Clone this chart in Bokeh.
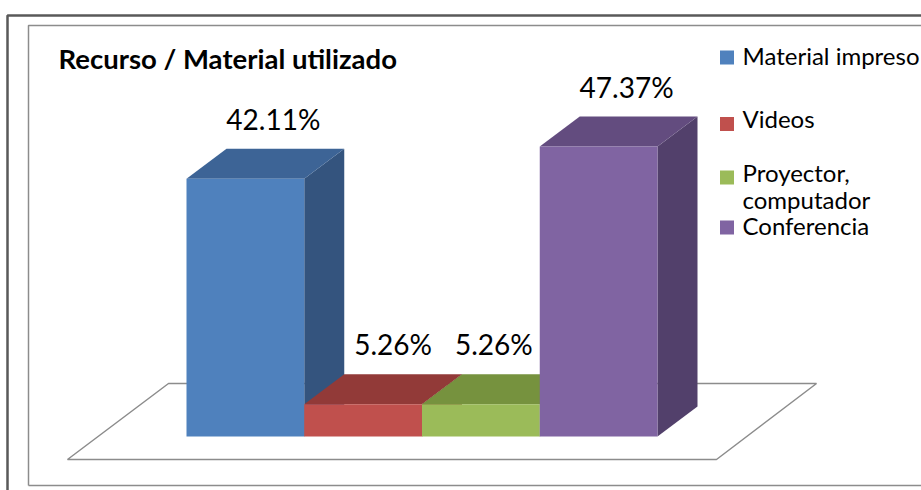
from bokeh.plotting import figure
from bokeh.models import Range1d
from bokeh.core.properties import value
from bokeh.embed import file_html
from bokeh.resources import INLINE

# ---- data ----
title_text = "Recurso / Material utilizado"
categories = ["Material impreso", "Videos", "Proyector, computador", "Conferencia"]
values = [42.11, 5.26, 5.26, 47.37]
front_colors = ["#4F81BD", "#C0504D", "#9BBB59", "#8064A2"]
top_colors = ["#3D6496", "#923A38", "#76923E", "#634C7F"]
side_colors = ["#34547E", "#7A302F", "#627A33", "#52406B"]

# ---- layout (pixel helpers) ----
W, H = 921, 490
PX = 6.12          # pixels per percent
ZERO = 436         # pixel row of value 0
def Y(py):
    return (ZERO - py) / PX
def X(px):
    return px

p = figure(width=W, height=H, output_backend="svg", toolbar_location=None,
           x_range=Range1d(0, W), y_range=Range1d(Y(H), Y(0)),
           min_border=0)
p.axis.visible = False
p.grid.visible = False
p.outline_line_color = None
p.background_fill_color = "white"
p.border_fill_color = "white"

FONT = "Lato"

# borders
p.line([X(7), X(7), X(960)], [Y(520), Y(15), Y(15)], line_color="#595959", line_width=2.5)
p.line([X(28), X(28), X(960)], [Y(485), Y(25), Y(25)], line_color="#8C8C8C", line_width=1.5)
p.line([X(28), X(960)], [Y(485), Y(485)], line_color="#8C8C8C", line_width=1.5)

# floor
p.patch([X(67), X(168), X(816), X(716)], [Y(459), Y(383), Y(383), Y(459)],
        fill_color="white", line_color="#8C8C8C", line_width=1.5)

# bars
BAR_X0 = X(186)
BAR_W = 117.75
DX = 40
DY = 30 / PX
xs_side, ys_side, xs_top, ys_top = [], [], [], []
lefts, rights = [], []
for i, v in enumerate(values):
    x0 = BAR_X0 + i * BAR_W
    x1 = x0 + BAR_W
    lefts.append(x0)
    rights.append(x1)
    xs_side.append([x1, x1, x1 + DX, x1 + DX])
    ys_side.append([0, v, v + DY, DY])
    xs_top.append([x0, x0 + DX, x1 + DX, x1])
    ys_top.append([v, v + DY, v + DY, v])

p.patches(xs_side, ys_side, fill_color=side_colors, line_color=None)
p.patches(xs_top, ys_top, fill_color=top_colors, line_color=None)
p.quad(left=lefts, right=rights, bottom=[0] * len(values), top=values,
       fill_color=front_colors, line_color=None)

# data labels
label_dx = [28, 30, 13, 28]
lab_x = [(l + r) / 2 + d for l, r, d in zip(lefts, rights, label_dx)]
lab_y = [v + 60 / PX for v in values]
p.text(lab_x, lab_y, text=[f"{v:.2f}%" for v in values], text_font=value(FONT),
       text_font_size="28px", text_align="center", text_baseline="middle",
       text_color="#000000")

# title
p.text([X(58)], [Y(58)], text=[title_text], text_font=value(FONT),
       text_font_size="27.5px", text_font_style="bold", text_align="left",
       text_baseline="middle", text_color="#000000")

# legend
leg_mid = [55, 118, 172, 225]
LINE_GAP = 27
sq_mid = [57, 123.5, 177, 227]
sq_x, sq_y = [], []
tx, ty, tt = [], [], []
for name, m, s in zip(categories, leg_mid, sq_mid):
    sq_x.append(X(726.5))
    sq_y.append(Y(s))
    lines = [name] if len(name) < 20 else name.split(" ", 1)
    for k, ln in enumerate(lines):
        tx.append(X(742))
        ty.append(Y(m + k * LINE_GAP))
        tt.append(ln)
p.scatter(sq_x, sq_y, marker="square", size=14, fill_color=front_colors, line_color=None)
p.text(tx, ty, text=tt, text_font=value(FONT), text_font_size="24px",
       text_align="left", text_baseline="middle", text_color="#000000")

open("out.html", "w").write(file_html(p, INLINE))
